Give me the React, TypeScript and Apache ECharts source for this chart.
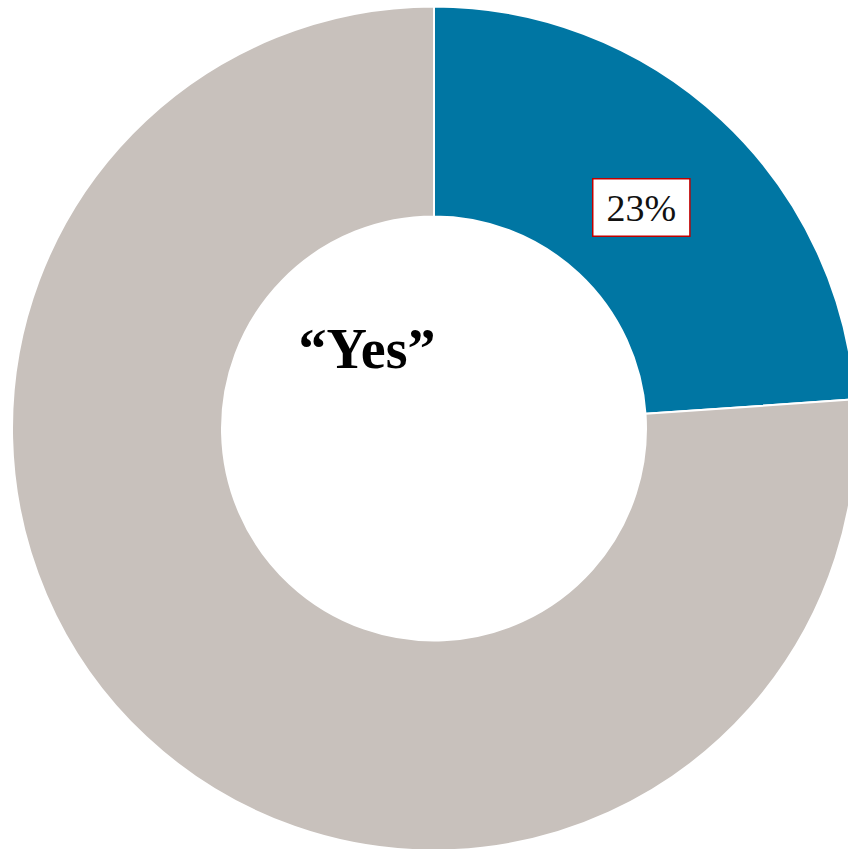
import React, { useEffect, useRef } from "react";
import * as echarts from "echarts";

const categories = ["Yes", "No"];
const values = [23.9, 76.1];
const labelTexts = ["23%", ""];
const colors = ["#0076A3", "#C8C1BC"];
const centerTitle = "\u201CYes\u201D";

export default function App() {
  const ref = useRef<HTMLDivElement>(null);
  useEffect(() => {
    if (!ref.current) return;
    const chart = echarts.init(ref.current, null, { renderer: "svg" });
    chart.setOption({
      animation: false,
      backgroundColor: "#ffffff",
      series: [
        {
          type: "pie",
          center: [434, 428.5],
          radius: [212, 422],
          startAngle: 90,
          clockwise: true,
          silent: true,
          itemStyle: { borderColor: "#ffffff", borderWidth: 2 },
          labelLine: { show: false },
          data: categories.map((c, i) => ({
            name: c,
            value: values[i],
            itemStyle: { color: colors[i] },
            label: {
              show: labelTexts[i] !== "",
              position: "inside",
              formatter: () => labelTexts[i],
              offset: [-11, 13],
              backgroundColor: "#ffffff",
              borderColor: "#C00000",
              borderWidth: 1.5,
              padding: [10, 13, 8, 13],
              color: "#111111",
              fontFamily: "Liberation Serif",
              fontSize: 38,
            },
          })),
        },
      ],
      graphic: [
        {
          type: "text",
          x: 367,
          y: 349,
          style: {
            text: centerTitle,
            fontFamily: "Liberation Serif",
            fontWeight: "bold",
            fontSize: 56,
            fill: "#000000",
            textAlign: "center",
            textVerticalAlign: "middle",
          },
        },
      ],
    });
    return () => chart.dispose();
  }, []);
  return (
    <div
      ref={ref}
      style={{ position: "fixed", left: 0, top: 0, width: 848, height: 849 }}
    />
  );
}
